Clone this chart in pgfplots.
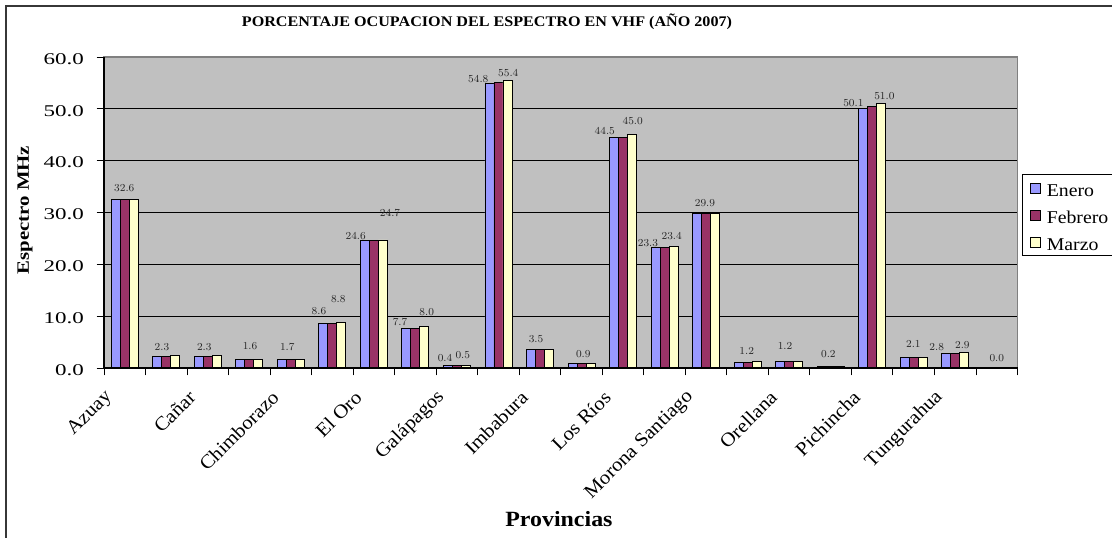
\documentclass[border=0pt]{standalone}
\usepackage{pgfplots}
\pgfplotsset{compat=1.18}
\usepackage{pgfplotstable}
\usepackage{fontspec}
\setmainfont{Liberation Serif}
\newfontfamily\fA{Liberation Serif}[FakeStretch=1.1]
\newfontfamily\fB{Liberation Serif}[FakeStretch=1.2]
\newfontfamily\fC{Liberation Serif}[FakeStretch=1.4]
\newfontfamily\fD{Liberation Serif}[FakeStretch=1.08]

\newcommand\titlefont{\fA\bfseries\fontsize{11}{13}\selectfont}
\newcommand\legfont{\fA\fontsize{13.5}{16}\selectfont}
\newcommand\datafont{\fB\fontsize{7.6}{9}\selectfont}
\newcommand\ylabfont{\fB\bfseries\fontsize{13}{15}\selectfont}
\newcommand\xlabfont{\fA\bfseries\fontsize{16.3}{19}\selectfont}
\newcommand\ytickfont{\fC\fontsize{12.3}{14}\selectfont}
\newcommand\xtickfont{\fD\fontsize{14.5}{17}\selectfont}

\definecolor{ene}{RGB}{153,153,255}
\definecolor{feb}{RGB}{153,51,102}
\definecolor{mar}{RGB}{255,255,204}
\definecolor{plotgray}{RGB}{192,192,192}
\definecolor{edgegray}{RGB}{128,128,128}
\definecolor{framecol}{RGB}{55,55,55}

% x: group position, y: value, s: label shown, dx/dy: label offset (px)
\pgfplotstableread{
x    y    s  dx    dy
0.5  32.6 0  0     0
1.5  2.3  0  0     0
2.5  2.3  0  0     0
3.5  1.6  0  0     0
4.5  1.7  0  0     0
5.5  8.6  1  -4.4  12.7
6.5  24.6 1  -9.2  4.8
7.5  7.7  1  -6.4  6.4
8.5  0.4  1  -2.9  7.6
9.5  54.8 1  -11.2 4.7
10.5 3.5  0  0     0
11.5 0.9  0  0     0
12.5 44.5 1  -9.3  6.7
13.5 23.3 1  -7.6  4.5
14.5 29.9 0  0     0
15.5 1.0  0  0     0
16.5 1.2  0  0     0
17.5 0.2  0  0     0
18.5 50.1 1  -9.8  5.0
19.5 2.1  0  0     0
20.5 2.8  1  -9.5  6.2
21.5 0.0  0  0     0
}\enero

\pgfplotstableread{
x    y    s  dx    dy
0.5  32.6 1  -0.5  11.3
1.5  2.3  1  -4.3  9.4
2.5  2.3  1  -3.5  9.4
3.5  1.6  1  0.7   14.0
4.5  1.7  1  -3.6  11.9
5.5  8.6  0  0     0
6.5  24.6 0  0     0
7.5  7.7  0  0     0
8.5  0.4  0  0     0
9.5  55.0 0  0     0
10.5 3.5  1  -4.0  10.6
11.5 0.9  1  1.8   9.3
12.5 44.5 0  0     0
13.5 23.3 0  0     0
14.5 29.9 1  -1.1  9.7
15.5 1.0  0  0     0
16.5 1.2  1  -4.1  15.8
17.5 0.2  1  -2.3  12.7
18.5 50.5 0  0     0
19.5 2.1  1  -0.3  13.1
20.5 2.8  0  0     0
21.5 0.0  1  0.0   9.7
}\febrero

\pgfplotstableread{
x    y    s  dx    dy
0.5  32.6 0  0     0
1.5  2.5  0  0     0
2.5  2.5  0  0     0
3.5  1.6  0  0     0
4.5  1.7  0  0     0
5.5  8.8  1  -3.1  23.1
6.5  24.7 1  7.1   26.7
7.5  8.0  1  2.3   14.2
8.5  0.5  1  -3.2  10.1
9.5  55.4 1  0.8   7.6
10.5 3.5  0  0     0
11.5 0.9  0  0     0
12.5 45.0 1  0.7   13.8
13.5 23.4 1  -1.9  10.4
14.5 29.9 0  0     0
15.5 1.2  1  -9.9  10.8
16.5 1.2  0  0     0
17.5 0.2  0  0     0
18.5 51.0 1  3.2   8.0
19.5 2.1  0  0     0
20.5 2.9  1  -1.9  8.0
21.5 0.0  0  0     0
}\marzo

\pgfplotsset{
  monthbar/.style={
    draw=black, line width=0.7pt, fill=#1,
    visualization depends on={\thisrow{s} \as \sv},
    visualization depends on={0.75*\thisrow{dx} \as \dxv},
    visualization depends on={0.75*\thisrow{dy} \as \dyv},
    nodes near coords={\ifdim\sv pt>0.5pt\pgfmathprintnumber[fixed,fixed zerofill,precision=1]{\pgfplotspointmeta}\fi},
    nodes near coords style={anchor=center, inner sep=0pt, font=\datafont,
      text=black!85, xshift=\dxv pt, yshift=\dyv pt},
  },
}

\begin{document}
\begin{tikzpicture}
\useasboundingbox (0,0) rectangle (834pt,403.5pt);
% chart frame
\draw[framecol, line width=1.3pt] (4.5pt,-20pt) -- (4.5pt,399pt) -- (860pt,399pt);

\begin{axis}[
  at={(78pt,127.5pt)}, anchor=south west,
  scale only axis, width=685.125pt, height=233.25pt,
  xmin=0, xmax=22, ymin=0, ymax=60,
  clip=false,
  axis background/.style={fill=plotgray},
  axis line style={draw=edgegray, line width=0.8pt},
  ybar, bar width=0.2167,
  tick align=outside, tick pos=left,
  major tick length=5.5pt,
  tick style={black, line width=0.7pt},
  xtick={0,1,...,22}, xticklabels={},
  extra x ticks={0.5,2.5,4.5,6.5,8.5,10.5,12.5,14.5,16.5,18.5,20.5},
  extra x tick labels={Azuay,Cañar,Chimborazo,El Oro,Galápagos,Imbabura,Los Ríos,Morona Santiago,Orellana,Pichincha,Tungurahua},
  extra x tick style={major tick length=0pt, grid=none,
    tick label style={xshift=-11.5pt, yshift=-19.5pt, rotate=45, anchor=east,
      inner sep=0pt, font=\xtickfont}},
  ytick={0,10,...,60},
  ymajorgrids, grid style={black, line width=0.6pt},
  yticklabel style={anchor=east, inner sep=0pt, xshift=-9.5pt, yshift=-1.5pt, font=\ytickfont,
    /pgf/number format/.cd, fixed, fixed zerofill, precision=1, assume math mode=true},
  ylabel={Espectro MHz},
  ylabel style={at={(axis description cs:-0.0865,0.508)}, anchor=center, font=\ylabfont},
  xlabel={Provincias},
  xlabel style={at={(axis description cs:0.498,-0.510)}, anchor=base, font=\xlabfont},
  legend style={at={(1.0046,0.6238)}, anchor=north west, draw=black, line width=0.6pt,
    fill=white, font=\legfont, inner xsep=5.7pt, inner ysep=1pt,
    row sep=2.1pt, column sep=4.7pt,
    nodes={inner sep=0pt, text height=15.3pt, text depth=3pt},
    cells={anchor=west}},
  legend image code/.code={\draw[#1, line width=0.6pt] (0pt,-3.75pt) rectangle (7.5pt,3.75pt);},
]
\addplot[monthbar=ene, bar shift=-0.2167] table[x=x, y=y] {\enero};
\addplot[monthbar=feb, bar shift=0] table[x=x, y=y] {\febrero};
\addplot[monthbar=mar, bar shift=0.2167] table[x=x, y=y] {\marzo};
\legend{Enero,Febrero,Marzo}
% dark edges along the value and category axes
\draw[black, line width=0.8pt] (rel axis cs:0,1) -- (rel axis cs:0,0) -- (rel axis cs:1,0);
\end{axis}

\node[font=\titlefont, anchor=center] at (365.25pt,387pt)
  {PORCENTAJE OCUPACION DEL ESPECTRO EN VHF (AÑO 2007)};
\end{tikzpicture}
\end{document}
